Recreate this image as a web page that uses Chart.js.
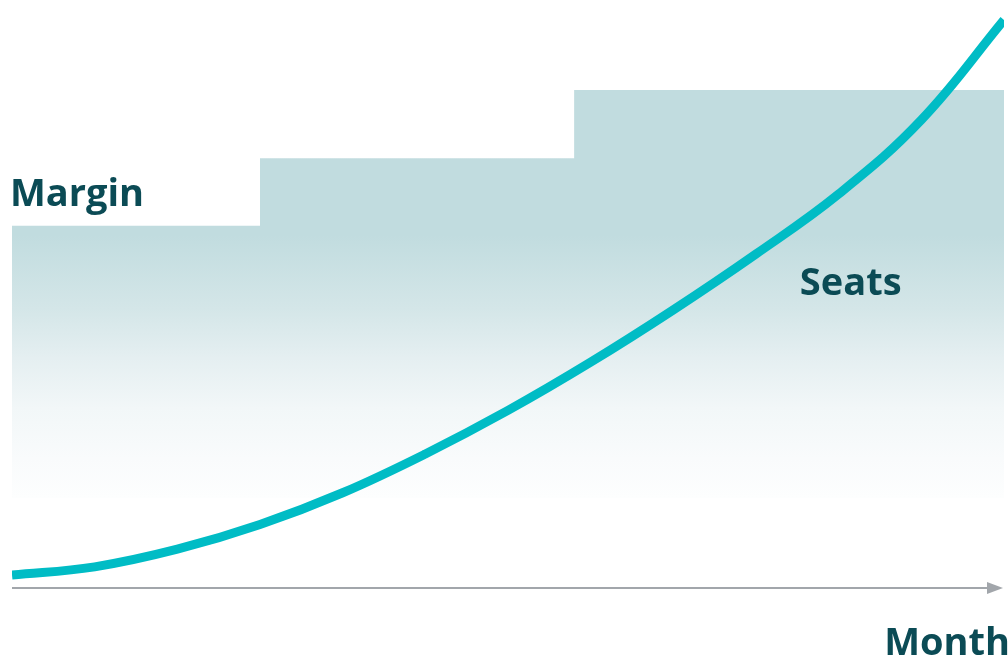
<!DOCTYPE html>
<html>
<head>
<meta charset="utf-8">
<script src="https://cdn.jsdelivr.net/npm/chart.js@4/dist/chart.umd.min.js"></script>
<style>
  body { margin: 0; background: #fff; }
  #wrap { width: 1008px; height: 660px; position: relative; }
</style>
</head>
<body>
<div id="wrap"><canvas id="myChart"></canvas></div>
<script>
// months on the x axis
const months = [0, 1, 2, 3, 4, 5, 6, 7, 8, 9, 10, 11, 12];
// seats, rising curve
const seats = [2.2, 3.6, 6.6, 10.8, 16.2, 22.8, 30.2, 38.4, 47.3, 56.8, 67.0, 79.6, 96.6];
// margin steps (value holds until next x)
const marginX = [0, 3, 6.8, 12];
const marginY = [61.6, 73.1, 84.7, 84.7];
const marginBase = 15.3;

const labels = { margin: 'Margin', seats: 'Seats', axis: 'Month' };

const textColor = '#0b4b55';
const lineColor = '#00bcc5';
const axisColor = '#a2a6ab';

// gradient for the margin area, built from the y scale
function margin_fill(context) {
    const chart = context.chart;
    const y = chart.scales.y;
    if (!y || !chart.chartArea) return '#c1dcdf';
    const top = y.getPixelForValue(60);
    const bottom = y.getPixelForValue(marginBase);
    const g = chart.ctx.createLinearGradient(0, top, 0, bottom);
    g.addColorStop(0, '#c1dcdf');
    g.addColorStop(0.28, '#d4e6e8');
    g.addColorStop(0.47, '#e5eff1');
    g.addColorStop(0.66, '#f2f7f8');
    g.addColorStop(0.85, '#f9fbfc');
    g.addColorStop(1, '#fdfefe');
    return g;
}

const decorations = {
    id: 'decorations',
    afterDatasetsDraw(chart) {
        const ctx = chart.ctx;
        const x = chart.scales.x;
        const y = chart.scales.y;
        const area = chart.chartArea;
        ctx.save();

        // x axis with arrow
        const ay = y.getPixelForValue(0);
        const x0 = x.getPixelForValue(0);
        const x1 = area.right - 1;
        ctx.strokeStyle = axisColor;
        ctx.fillStyle = axisColor;
        ctx.lineWidth = 2;
        ctx.beginPath();
        ctx.moveTo(x0, ay);
        ctx.lineTo(x1 - 12, ay);
        ctx.stroke();
        ctx.beginPath();
        ctx.moveTo(x1, ay);
        ctx.lineTo(x1 - 16, ay - 6);
        ctx.lineTo(x1 - 16, ay + 6);
        ctx.closePath();
        ctx.fill();

        // labels
        ctx.fillStyle = textColor;
        ctx.font = 'bold 38px "Open Sans"';
        ctx.textBaseline = 'alphabetic';
        ctx.textAlign = 'left';
        ctx.fillText(labels.margin, x0 - 2, 206);
        ctx.fillText(labels.seats, x.getPixelForValue(9.53), 295);
        ctx.textAlign = 'right';
        ctx.fillText(labels.axis, 1010, 655);
        ctx.restore();
    }
};

const ctx = document.getElementById('myChart').getContext('2d');

const data = {
    datasets: [
        {
            label: labels.seats,
            data: months.map((m, i) => ({ x: m, y: seats[i] })),
            borderColor: lineColor,
            borderWidth: 9,
            borderCapStyle: 'butt',
            pointRadius: 0,
            tension: 0.4,
            fill: false,
            order: 0,
        },
        {
            label: labels.margin,
            data: marginX.map((m, i) => ({ x: m, y: marginY[i] })),
            stepped: 'before',
            borderWidth: 0,
            borderColor: 'rgba(0,0,0,0)',
            pointRadius: 0,
            backgroundColor: margin_fill,
            fill: { value: marginBase },
            order: 1,
        },
    ],
};

const config = {
    type: 'line',
    data: data,
    plugins: [decorations],
    options: {
        responsive: true,
        maintainAspectRatio: false,
        animation: false,
        layout: { padding: { left: 12, right: 4, top: 0, bottom: 72 } },
        scales: {
            x: { type: 'linear', min: 0, max: 12, display: false },
            y: { min: 0, max: 100, display: false },
        },
        plugins: {
            legend: { display: false },
            tooltip: { enabled: false },
        },
    },
};

const myChart = new Chart(ctx, config);
</script>
</body>
</html>
